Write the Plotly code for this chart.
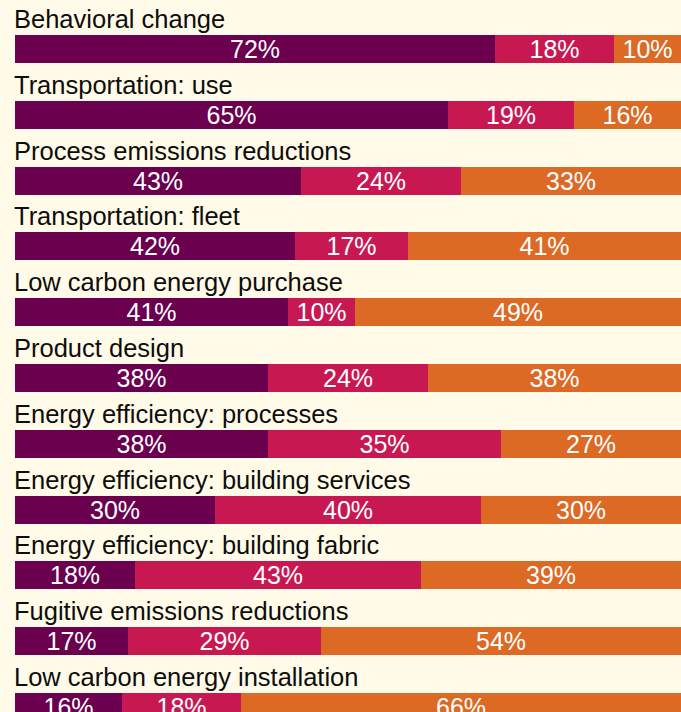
import plotly.graph_objects as go

categories = [
    "Behavioral change",
    "Transportation: use",
    "Process emissions reductions",
    "Transportation: fleet",
    "Low carbon energy purchase",
    "Product design",
    "Energy efficiency: processes",
    "Energy efficiency: building services",
    "Energy efficiency: building fabric",
    "Fugitive emissions reductions",
    "Low carbon energy installation",
]
share_a = [72, 65, 43, 42, 41, 38, 38, 30, 18, 17, 16]
share_b = [18, 19, 24, 17, 10, 24, 35, 40, 43, 29, 18]
share_c = [10, 16, 33, 41, 49, 38, 27, 30, 39, 54, 66]

colors = ["#6a004e", "#c81852", "#dc6924"]
bg = "#fffbe8"
FONT = "Liberation Sans, Arial, Helvetica, sans-serif"

W, H = 681, 712
row_px = 65.8          # vertical distance between rows
first_center = 49      # pixel centre of the first bar
bar_px = 28            # bar thickness

pos = list(range(len(categories)))
y_top = -first_center / row_px
y_bot = (H - first_center) / row_px

fig = go.Figure()
for vals, col in zip([share_a, share_b, share_c], colors):
    fig.add_trace(go.Bar(
        y=pos, x=vals, orientation="h",
        width=bar_px / row_px,
        marker=dict(color=col, line=dict(width=0)),
        text=[f"{v}%" for v in vals],
        textposition="inside",
        insidetextanchor="middle",
        constraintext="none",
        textfont=dict(family=FONT, size=25, color="white"),
        hoverinfo="skip",
        showlegend=False,
    ))

# category titles sit just above each bar, left aligned with it
label_offset = 30 / row_px
for i, name in enumerate(categories):
    fig.add_annotation(
        x=0, xref="x", xanchor="left", xshift=-2,
        y=i - label_offset, yref="y", yanchor="middle",
        text=name, showarrow=False, borderpad=0,
        font=dict(family=FONT, size=25.5, color="#0d0d0d"),
    )

fig.update_layout(
    width=W, height=H,
    margin=dict(l=0, r=0, t=0, b=0),
    paper_bgcolor=bg, plot_bgcolor=bg,
    barmode="stack", bargap=0,
    xaxis=dict(range=[0, 100], domain=[15 / W, 1], visible=False, fixedrange=True),
    yaxis=dict(range=[y_bot, y_top], visible=False, fixedrange=True),
)

fig.write_html("out.html")
